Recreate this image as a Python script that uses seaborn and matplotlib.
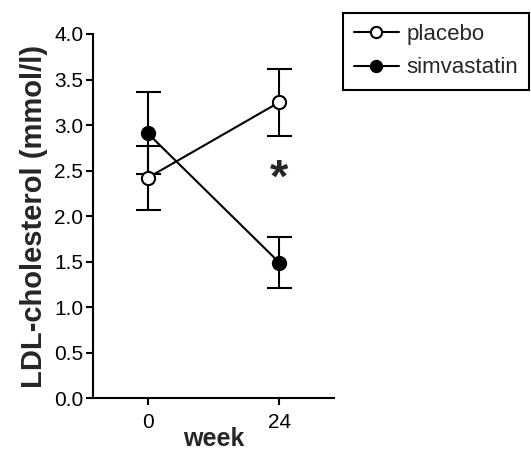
import matplotlib
matplotlib.use("Agg")
import matplotlib.pyplot as plt
import seaborn as sns
import pandas as pd

# summary values
weeks = [0, 24]
groups = ["placebo", "simvastatin"]
placebo_mean = [2.42, 3.25]
placebo_err = [0.35, 0.37]
simva_mean = [2.91, 1.49]
simva_err = [0.45, 0.28]

df = pd.DataFrame({
    "week": weeks * 2,
    "ldl": placebo_mean + simva_mean,
    "err": placebo_err + simva_err,
    "group": [groups[0]] * 2 + [groups[1]] * 2,
})

sns.set_style("ticks")
plt.rcParams["font.family"] = ["Liberation Sans", "DejaVu Sans"]

fig = plt.figure(figsize=(5.31, 4.53), dpi=100)
ax = fig.add_axes([0.175, 0.121, 0.454, 0.804])

face = {"placebo": "white", "simvastatin": "black"}
for g in groups:
    sub = df[df["group"] == g]
    ax.errorbar(sub["week"], sub["ldl"], yerr=sub["err"], fmt="none",
                ecolor="black", elinewidth=1.5, capsize=9, capthick=1.5, zorder=2)
for g in groups:
    sub = df[df["group"] == g]
    sns.lineplot(data=sub, x="week", y="ldl", ax=ax, color="black", lw=1.5,
                 marker="o", markersize=9.5, markerfacecolor=face[g],
                 markeredgecolor="black", markeredgewidth=1.5, label=g, zorder=3)

# significance mark
ax.text(24, 2.40, "*", ha="center", va="center", fontsize=34, fontweight="bold")

ax.set_xlim(-10, 34)
ax.set_ylim(0, 4)
ax.set_xticks(weeks)
yticks = [0, 0.5, 1, 1.5, 2, 2.5, 3, 3.5, 4]
ax.set_yticks(yticks)
ax.set_yticklabels([f"{v:.1f}" for v in yticks])
ax.tick_params(direction="out", length=5, width=1.5, labelsize=15, colors="black")
ax.tick_params(axis="y", pad=2)
ax.tick_params(axis="x", pad=6)
for s in ["left", "bottom"]:
    ax.spines[s].set_linewidth(1.5)
    ax.spines[s].set_color("black")
sns.despine(ax=ax)
ax.set_xlabel("week", fontsize=18, fontweight="bold", labelpad=-4)
ax.set_ylabel("LDL-cholesterol (mmol/l)", fontsize=21, fontweight="bold", labelpad=4)

leg = ax.legend(loc="upper left", bbox_to_anchor=(0.646, 0.971), bbox_transform=fig.transFigure,
                frameon=True, fancybox=False, fontsize=16, handlelength=2.0, markerscale=0.85,
                handletextpad=0.35, borderpad=0.5, labelspacing=0.55, borderaxespad=0)
leg.get_frame().set_edgecolor("black")
leg.get_frame().set_linewidth(1.5)
leg.get_frame().set_alpha(1)

fig.savefig("out.png", dpi=100)
